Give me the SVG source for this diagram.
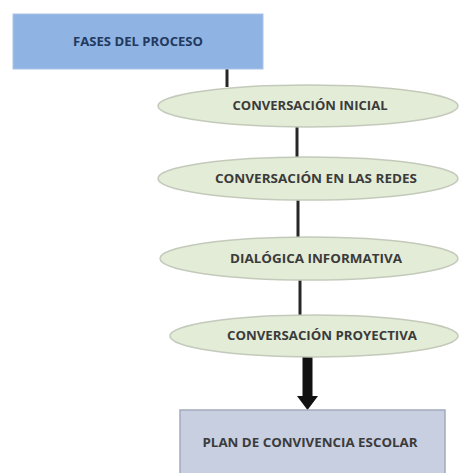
<svg xmlns="http://www.w3.org/2000/svg" width="467" height="473" viewBox="0 0 467 473">
<style>
.t{font-family:"Open Sans","Liberation Sans",sans-serif;font-weight:bold;font-size:11.5px;text-anchor:middle;fill:#3b3b3b}
.e{fill:#e3ecd6;stroke:#c4cabb;stroke-width:1.5}
.c{stroke:#262626;stroke-width:3;fill:none}
</style>
<rect width="467" height="473" fill="#ffffff"/>
<g id="connectors">
<line class="c" x1="227" y1="69" x2="227" y2="87"/>
<line class="c" x1="297" y1="127" x2="297" y2="158"/>
<line class="c" x1="298" y1="200" x2="298" y2="237"/>
<line class="c" x1="300" y1="280" x2="300" y2="315"/>
<polygon points="302.5,357 312.5,357 312.5,396 318,396 307.5,410 297,396 302.5,396" fill="#111111"/>
</g>
<g id="fases">
<rect x="13" y="14" width="250" height="55" fill="#8fb3e3" stroke="#a9c3e8" stroke-width="1"/>
<text class="t" x="138" y="46" style="fill:#23395d" textLength="130" lengthAdjust="spacingAndGlyphs">FASES DEL PROCESO</text>
</g>
<g id="inicial">
<ellipse class="e" cx="308" cy="106" rx="150" ry="21"/>
<text class="t" x="310" y="110" textLength="155" lengthAdjust="spacingAndGlyphs">CONVERSACIÓN INICIAL</text>
</g>
<g id="redes">
<ellipse class="e" cx="308" cy="178.5" rx="150" ry="21.5"/>
<text class="t" x="316" y="182.5" textLength="202" lengthAdjust="spacingAndGlyphs">CONVERSACIÓN EN LAS REDES</text>
</g>
<g id="dialogica">
<ellipse class="e" cx="309" cy="258.5" rx="149" ry="21.5"/>
<text class="t" x="316" y="262.5" textLength="172" lengthAdjust="spacingAndGlyphs">DIALÓGICA INFORMATIVA</text>
</g>
<g id="proyectiva">
<ellipse class="e" cx="314" cy="336" rx="144" ry="21"/>
<text class="t" x="322" y="340" textLength="190" lengthAdjust="spacingAndGlyphs">CONVERSACIÓN PROYECTIVA</text>
</g>
<g id="plan">
<rect x="180" y="410" width="265" height="70" fill="#c8cfe1" stroke="#a3aabb" stroke-width="1.5"/>
<text class="t" x="310" y="447" textLength="215" lengthAdjust="spacingAndGlyphs">PLAN DE CONVIVENCIA ESCOLAR</text>
</g>
</svg>
